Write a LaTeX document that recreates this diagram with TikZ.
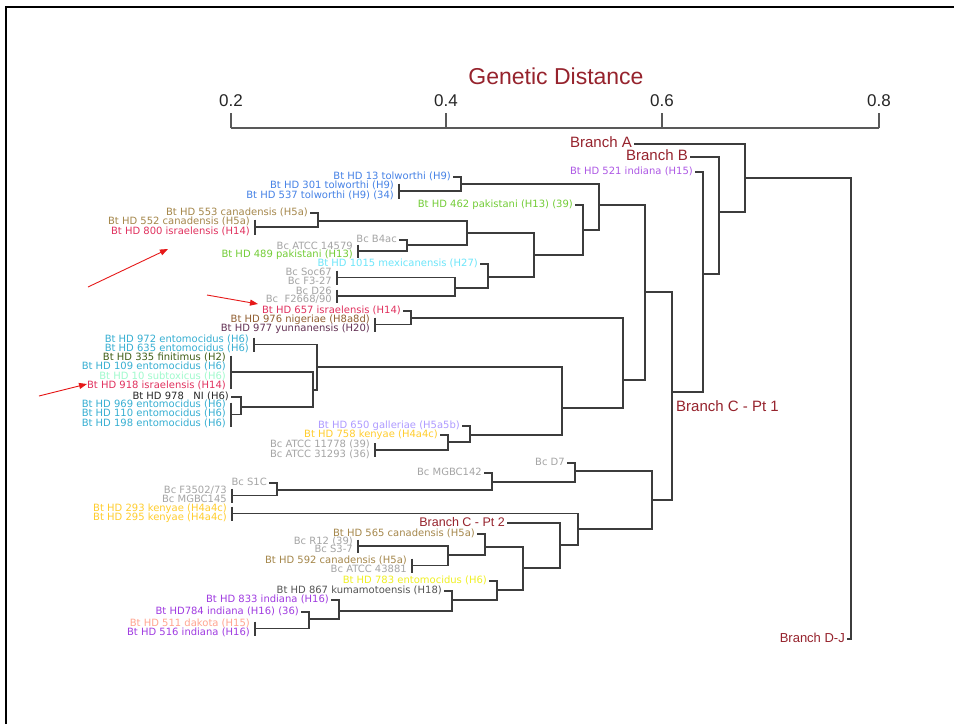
\documentclass[tikz,border=0pt]{standalone}
\usepackage{fontspec}
\setmainfont{DejaVu Sans}
\newfontfamily\brfont{Liberation Sans}
\usetikzlibrary{arrows.meta}
\definecolor{treec}{RGB}{60,60,60}
\definecolor{brred}{RGB}{150,35,45}
\definecolor{cblue}{RGB}{70,130,230}
\definecolor{cgreen}{RGB}{115,205,55}
\definecolor{ctan}{RGB}{165,135,75}
\definecolor{cisr}{RGB}{225,50,95}
\definecolor{cgray}{RGB}{165,165,165}
\definecolor{cmex}{RGB}{110,230,250}
\definecolor{cnig}{RGB}{145,95,50}
\definecolor{cyun}{RGB}{100,50,85}
\definecolor{cento}{RGB}{55,175,210}
\definecolor{cfin}{RGB}{65,95,25}
\definecolor{csub}{RGB}{160,250,205}
\definecolor{cni}{RGB}{40,40,40}
\definecolor{cgal}{RGB}{175,155,255}
\definecolor{cken}{RGB}{255,205,45}
\definecolor{cyel}{RGB}{240,240,35}
\definecolor{ckum}{RGB}{85,85,85}
\definecolor{cind}{RGB}{160,60,225}
\definecolor{cdak}{RGB}{255,165,145}
\definecolor{carrow}{RGB}{230,25,25}
\tikzset{
  lab/.style={anchor=east, inner xsep=2pt, inner ysep=0pt, font=\fontsize{10}{10}\selectfont, text height=7pt, text depth=2pt},
  brlab/.style={anchor=east, inner xsep=2pt, inner ysep=0pt, text=brred, text height=10pt, text depth=3pt},
  edge/.style={draw=treec, line width=1.3pt},
  redarrow/.style={draw=carrow, line width=0.9pt, -{Triangle[length=8pt,width=6pt]}},
}
\newcommand\junc[3]{\draw[edge] (#2) -- (#2 -| #1) -- (#3 -| #1) -- (#3);}
\newcommand\leafbar[2]{\draw[edge] (#1) +(0,-#2) -- +(0,#2);}
\begin{document}
\begin{tikzpicture}[x=1pt,y=-1pt]
\path[use as bounding box, fill=white] (0,0) rectangle (954,724);
% frame
\draw[line width=2pt] (6,724) -- (6,7) -- (954,7);
% axis
\node[text=brred, font=\brfont\fontsize{23}{23}\selectfont] (title) at (556,76) {Genetic Distance};
\foreach \n/\x/\t in {a2/231/0.2, a4/446/0.4, a6/662/0.6, a8/879/0.8}{
  \coordinate (\n) at (\x,128);
  \node[font=\brfont\fontsize{17}{17}\selectfont, text=black!85] (\n lab) at (\x,101) {\t};
  \draw[edge, draw=black!65] (\n) -- ++(0,-15);
}
\draw[edge, draw=black!65] (a2) -- (a8);

% ---------- leaves: upper part ----------
\node[lab, text=cblue] (L13) at (453,177) {Bt HD 13 tolworthi (H9)};
\node[lab, text=cblue] (L301) at (396,186) {Bt HD 301 tolworthi (H9)};
\node[lab, text=cblue] (L537) at (396,196) {Bt HD 537 tolworthi (H9) (34)};
\node[lab, text=cgreen] (L462) at (575,205) {Bt HD 462 pakistani (H13) (39)};
\node[lab, text=ctan] (L553) at (310,213) {Bt HD 553 canadensis (H5a)};
\node[lab, text=ctan] (L552) at (252,222) {Bt HD 552 canadensis (H5a)};
\node[lab, text=cisr] (L800) at (252,232) {Bt HD 800 israelensis (H14)};
\node[lab, text=cgray] (LB4ac) at (399,240) {Bc B4ac};
\node[lab, text=cgray] (L14579) at (355,247) {Bc ATCC 14579};
\node[lab, text=cgreen] (L489) at (355,255) {Bt HD 489 pakistani (H13)};
\node[lab, text=cmex] (L1015) at (480,264) {Bt HD 1015 mexicanensis (H27)};
\node[lab, text=cgray] (LSoc67) at (334,273) {Bc Soc67};
\node[lab, text=cgray] (LF327) at (334,282) {Bc F3-27};
\node[lab, text=cgray] (LD26) at (334,292) {Bc D26};
\node[lab, text=cgray] (LF2668) at (334,300) {Bc\ \ F2668/90};
\node[lab, text=cisr] (L657) at (403,311) {Bt HD 657 israelensis (H14)};
\node[lab, text=cnig] (L976) at (372,320) {Bt HD 976 nigeriae (H8a8d)};
\node[lab, text=cyun] (L977) at (372,329) {Bt HD 977 yunnanensis (H20)};
\node[lab, text=cento] (L972) at (251,340) {Bt HD 972 entomocidus (H6)};
\node[lab, text=cento] (L635) at (251,349) {Bt HD 635 entomocidus (H6)};
\node[lab, text=cfin] (L335) at (228,358) {Bt HD 335 finitimus (H2)};
\node[lab, text=cento] (L109) at (228,367) {Bt HD 109 entomocidus (H6)};
\node[lab, text=csub] (L10) at (228,377) {Bt HD 10 subtoxicus (H6)};
\node[lab, text=cisr] (L918) at (228,386) {Bt HD 918 israelensis (H14)};
\node[lab, text=cni] (L978) at (231,397) {Bt HD 978\ \ \ NI (H6)};
\node[lab, text=cento] (L969) at (228,405) {Bt HD 969 entomocidus (H6)};
\node[lab, text=cento] (L110) at (228,414) {Bt HD 110 entomocidus (H6)};
\node[lab, text=cento] (L198) at (228,424) {Bt HD 198 entomocidus (H6)};
\node[lab, text=cgal] (L650) at (462,426) {Bt HD 650 galleriae (H5a5b)};
\node[lab, text=cken] (L758) at (440,435) {Bt HD 758 kenyae (H4a4c)};
\node[lab, text=cgray] (L11778) at (372,445) {Bc ATCC 11778 (39)};
\node[lab, text=cgray] (L31293) at (372,455) {Bc ATCC 31293 (36)};
% ---------- leaves: lower part ----------
\node[lab, text=cgray] (LD7) at (567,463) {Bc D7};
\node[lab, text=cgray] (LMGBC142) at (484,473) {Bc MGBC142};
\node[lab, text=cgray] (LS1C) at (269,483) {Bc S1C};
\node[lab, text=cgray] (LF3502) at (229,491) {Bc F3502/73};
\node[lab, text=cgray] (LMGBC145) at (229,500) {Bc MGBC145};
\node[lab, text=cken] (L293) at (229,509) {Bt HD 293 kenyae (H4a4c)};
\node[lab, text=cken] (L295) at (229,518) {Bt HD 295 kenyae (H4a4c)};
\node[brlab, font=\brfont\fontsize{12.5}{13}\selectfont] (LBrC2) at (507,523) {Branch C - Pt 2};
\node[lab, text=ctan] (L565) at (477,534) {Bt HD 565 canadensis (H5a)};
\node[lab, text=cgray] (LR12) at (355,542) {Bc R12 (39)};
\node[lab, text=cgray] (LS37) at (355,550) {Bc S3-7};
\node[lab, text=ctan] (L592) at (409,561) {Bt HD 592 canadensis (H5a)};
\node[lab, text=cgray] (L43881) at (409,570) {Bc ATCC 43881};
\node[lab, text=cyel] (L783) at (489,581) {Bt HD 783 entomocidus (H6)};
\node[lab, text=ckum] (L867) at (444,591) {Bt HD 867 kumamotoensis (H18)};
\node[lab, text=cind] (L833) at (331,600) {Bt HD 833 indiana (H16)};
\node[lab, text=cind] (L784) at (301,612) {Bt HD784 indiana (H16) (36)};
\node[lab, text=cdak] (L511) at (252,624) {Bt HD 511 dakota (H15)};
\node[lab, text=cind] (L516) at (252,633) {Bt HD 516 indiana (H16)};
% ---------- leaves: right part ----------
\node[lab, text=cind!85] (L521) at (695,172) {Bt HD 521 indiana (H15)};
\node[brlab, font=\brfont\fontsize{15}{15}\selectfont] (LBrA) at (634,144) {Branch A};
\node[brlab, font=\brfont\fontsize{15}{15}\selectfont] (LBrB) at (690,157) {Branch B};
\node[brlab, font=\brfont\fontsize{13}{13}\selectfont] (LBrDJ) at (847,639) {Branch D-J};
\node[anchor=west, inner sep=0pt, text=brred, font=\brfont\fontsize{15}{15}\selectfont] (LBrC1) at (676,406) {Branch C - Pt 1};

% ---------- bars joining leaf pairs ----------
\coordinate (B1) at (399,191);   \leafbar{B1}{7.5}
\coordinate (B2) at (255,227);   \leafbar{B2}{7.5}
\coordinate (B3) at (358,251);   \leafbar{B3}{6.5}
\coordinate (B4) at (337,277.5); \leafbar{B4}{7}
\coordinate (B5) at (337,296);   \leafbar{B5}{6.5}
\coordinate (B6) at (375,324.5); \leafbar{B6}{7}
\coordinate (B7) at (254,344.5); \leafbar{B7}{7}
\coordinate (B8) at (231,372);   \leafbar{B8}{16.5}
\coordinate (B9) at (231,414.5); \leafbar{B9}{12}
\coordinate (B10) at (375,450);  \leafbar{B10}{7}
\coordinate (B11) at (232,495.5);\leafbar{B11}{7}
\coordinate (B12) at (232,513.5);\leafbar{B12}{7}
\coordinate (B13) at (358,546);  \leafbar{B13}{6.5}
\coordinate (B14) at (412,565.5);\leafbar{B14}{7}
\coordinate (B15) at (255,628.5);\leafbar{B15}{7}

% ---------- internal junctions ----------
\coordinate (N1) at (461,184);
\coordinate (N2) at (318,221);
\coordinate (N6) at (407,245);
\coordinate (N3) at (467,233);
\coordinate (N9) at (455,288);
\coordinate (N8) at (488,277);
\coordinate (N7) at (534,255);
\coordinate (N4) at (583,230);
\coordinate (N5) at (599,205);
\coordinate (N11) at (411,318);
\coordinate (N15) at (241,407);
\coordinate (N14) at (313,390);
\coordinate (N13) at (317,367);
\coordinate (N18) at (448,442);
\coordinate (N17) at (470,435);
\coordinate (N16) at (562,408);
\coordinate (N12) at (623,380);
\coordinate (N10) at (645,292);
\coordinate (N22) at (277,490);
\coordinate (N21) at (492,482);
\coordinate (N20) at (575,471);
\coordinate (N27) at (448,555);
\coordinate (N26) at (485,547);
\coordinate (N32) at (309,619);
\coordinate (N31) at (339,611);
\coordinate (N30) at (452,600);
\coordinate (N29) at (497,590);
\coordinate (N28) at (523,568);
\coordinate (N25) at (560,545);
\coordinate (N24) at (578,529);
\coordinate (N23) at (652,500);
\coordinate (N19) at (672,392);
\coordinate (N33) at (703,274);
\coordinate (N34) at (719,212);
\coordinate (N35) at (745,178);
\coordinate (N36) at (851,400);

\junc{N1}{L13.east}{B1}
\junc{N2}{L553.east}{B2}
\junc{N6}{LB4ac.east}{B3}
\junc{N3}{N2}{N6}
\junc{N9}{B4}{B5}
\junc{N8}{L1015.east}{N9}
\junc{N7}{N3}{N8}
\junc{N4}{L462.east}{N7}
\junc{N5}{N1}{N4}
\junc{N11}{L657.east}{B6}
\junc{N15}{L978.east}{B9}
\junc{N14}{B8}{N15}
\junc{N13}{B7}{N14}
\junc{N18}{L758.east}{B10}
\junc{N17}{L650.east}{N18}
\junc{N16}{N13}{N17}
\junc{N12}{N11}{N16}
\junc{N10}{N5}{N12}
\junc{N22}{LS1C.east}{B11}
\junc{N21}{LMGBC142.east}{N22}
\junc{N20}{LD7.east}{N21}
\junc{N27}{B13}{B14}
\junc{N26}{L565.east}{N27}
\junc{N32}{L784.east}{B15}
\junc{N31}{L833.east}{N32}
\junc{N30}{L867.east}{N31}
\junc{N29}{L783.east}{N30}
\junc{N28}{N26}{N29}
\junc{N25}{LBrC2.east}{N28}
\junc{N24}{B12}{N25}
\junc{N23}{N20}{N24}
\junc{N19}{N10}{N23}
\junc{N33}{L521.east}{N19}
\junc{N34}{LBrB.east}{N33}
\junc{N35}{LBrA.east}{N34}
\junc{N36}{N35}{LBrDJ.east}

% ---------- red arrows ----------
\coordinate (r1s) at (88,287);  \coordinate (r1e) at (168,249);
\coordinate (r2s) at (207,295); \coordinate (r2e) at (258,304);
\coordinate (r3s) at (39,396);  \coordinate (r3e) at (87,384);
\draw[redarrow] (r1s) -- (r1e);
\draw[redarrow] (r2s) -- (r2e);
\draw[redarrow] (r3s) -- (r3e);
\end{tikzpicture}
\end{document}
